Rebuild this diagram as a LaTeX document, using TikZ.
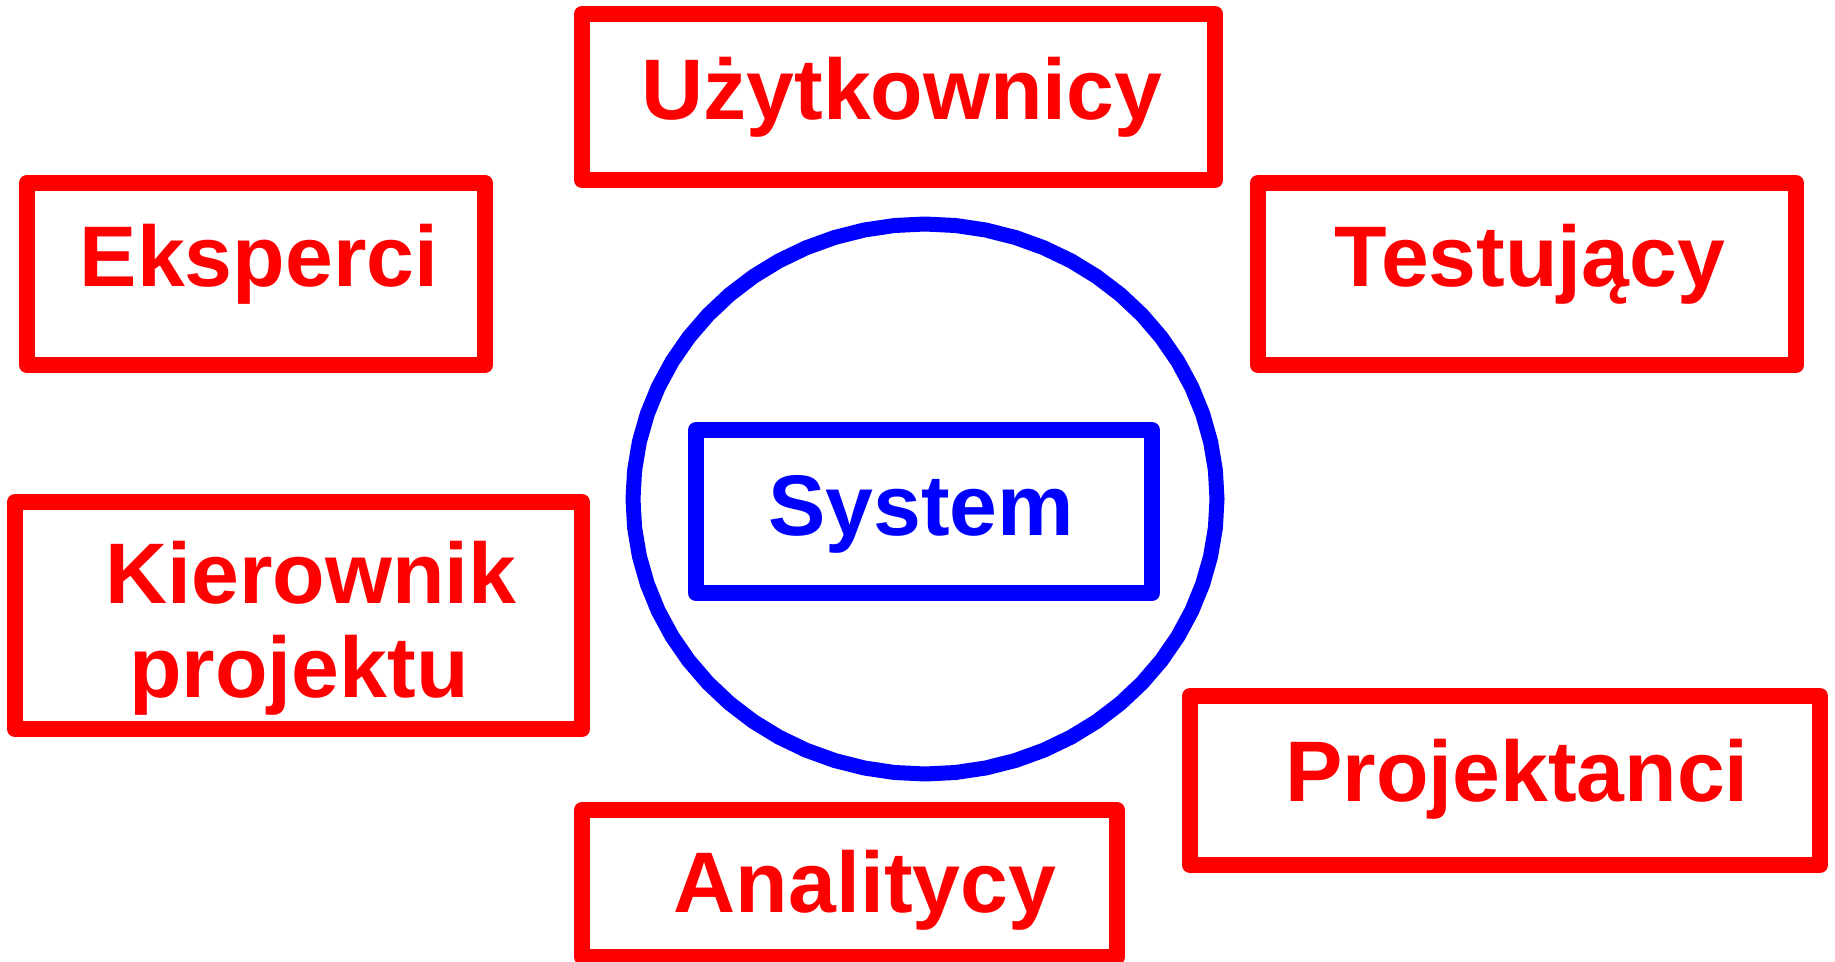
\documentclass[tikz,border=0pt]{standalone}
\usepackage{fontspec}
\setmainfont{Liberation Sans}
\definecolor{rolered}{RGB}{255,0,0}
\definecolor{sysblue}{RGB}{0,0,255}
\tikzset{
  rolebox/.style={draw=rolered, line width=8pt, line join=round, inner sep=0pt, outer sep=0pt},
  sysbox/.style={draw=sysblue, line width=8pt, line join=round, inner sep=0pt, outer sep=0pt},
  rolelabel/.style={text=rolered, font=\fontsize{43}{47}\selectfont\bfseries, inner sep=0pt, anchor=base, align=center},
  syslabel/.style={text=sysblue, font=\fontsize{43}{47}\selectfont\bfseries, inner sep=0pt, anchor=base},
  ring/.style={draw=sysblue, line width=7.5pt, line join=round}
}
\begin{document}
\begin{tikzpicture}[x=0.5pt, y=-0.5pt]
\useasboundingbox (0,0) rectangle (1835,962);

% surrounding boundary of the system
\draw[ring] plot[samples=61, domain=0:360, variable=\t]
  ({925+292*cos(\t)}, {499+275*sin(\t)}) -- cycle;

% role boxes
\node[rolebox, minimum width=316.5pt, minimum height=83pt]   (uz) at (898.5,97)  {};
\node[rolebox, minimum width=229pt,   minimum height=91pt]   (ek) at (256,274)   {};
\node[rolebox, minimum width=269pt,   minimum height=91pt]   (te) at (1527,274)  {};
\node[rolebox, minimum width=283.5pt, minimum height=113.5pt](ki) at (298.5,615.5) {};
\node[rolebox, minimum width=315pt,   minimum height=84.5pt] (pr) at (1505,780.5) {};
\node[rolebox, minimum width=267.5pt, minimum height=73.5pt] (an) at (849.5,883.5) {};

% system box
\node[sysbox, minimum width=228pt, minimum height=81.5pt] (sys) at (924,511.5) {};

% labels
\node[rolelabel] (uzt) at (902,120)  {Użytkownicy};
\node[rolelabel] (ekt) at (259,287)  {Eksperci};
\node[rolelabel] (tet) at (1530,287) {Testujący};
\node[rolelabel] (kit1) at (311,603) {Kierownik};
\node[rolelabel] (kit2) at (299,697) {projektu};
\node[rolelabel] (prt) at (1517,801) {Projektanci};
\node[rolelabel] (ant) at (865,912)  {Analitycy};
\node[syslabel]  (syst) at (921,535) {System};
\end{tikzpicture}
\end{document}
